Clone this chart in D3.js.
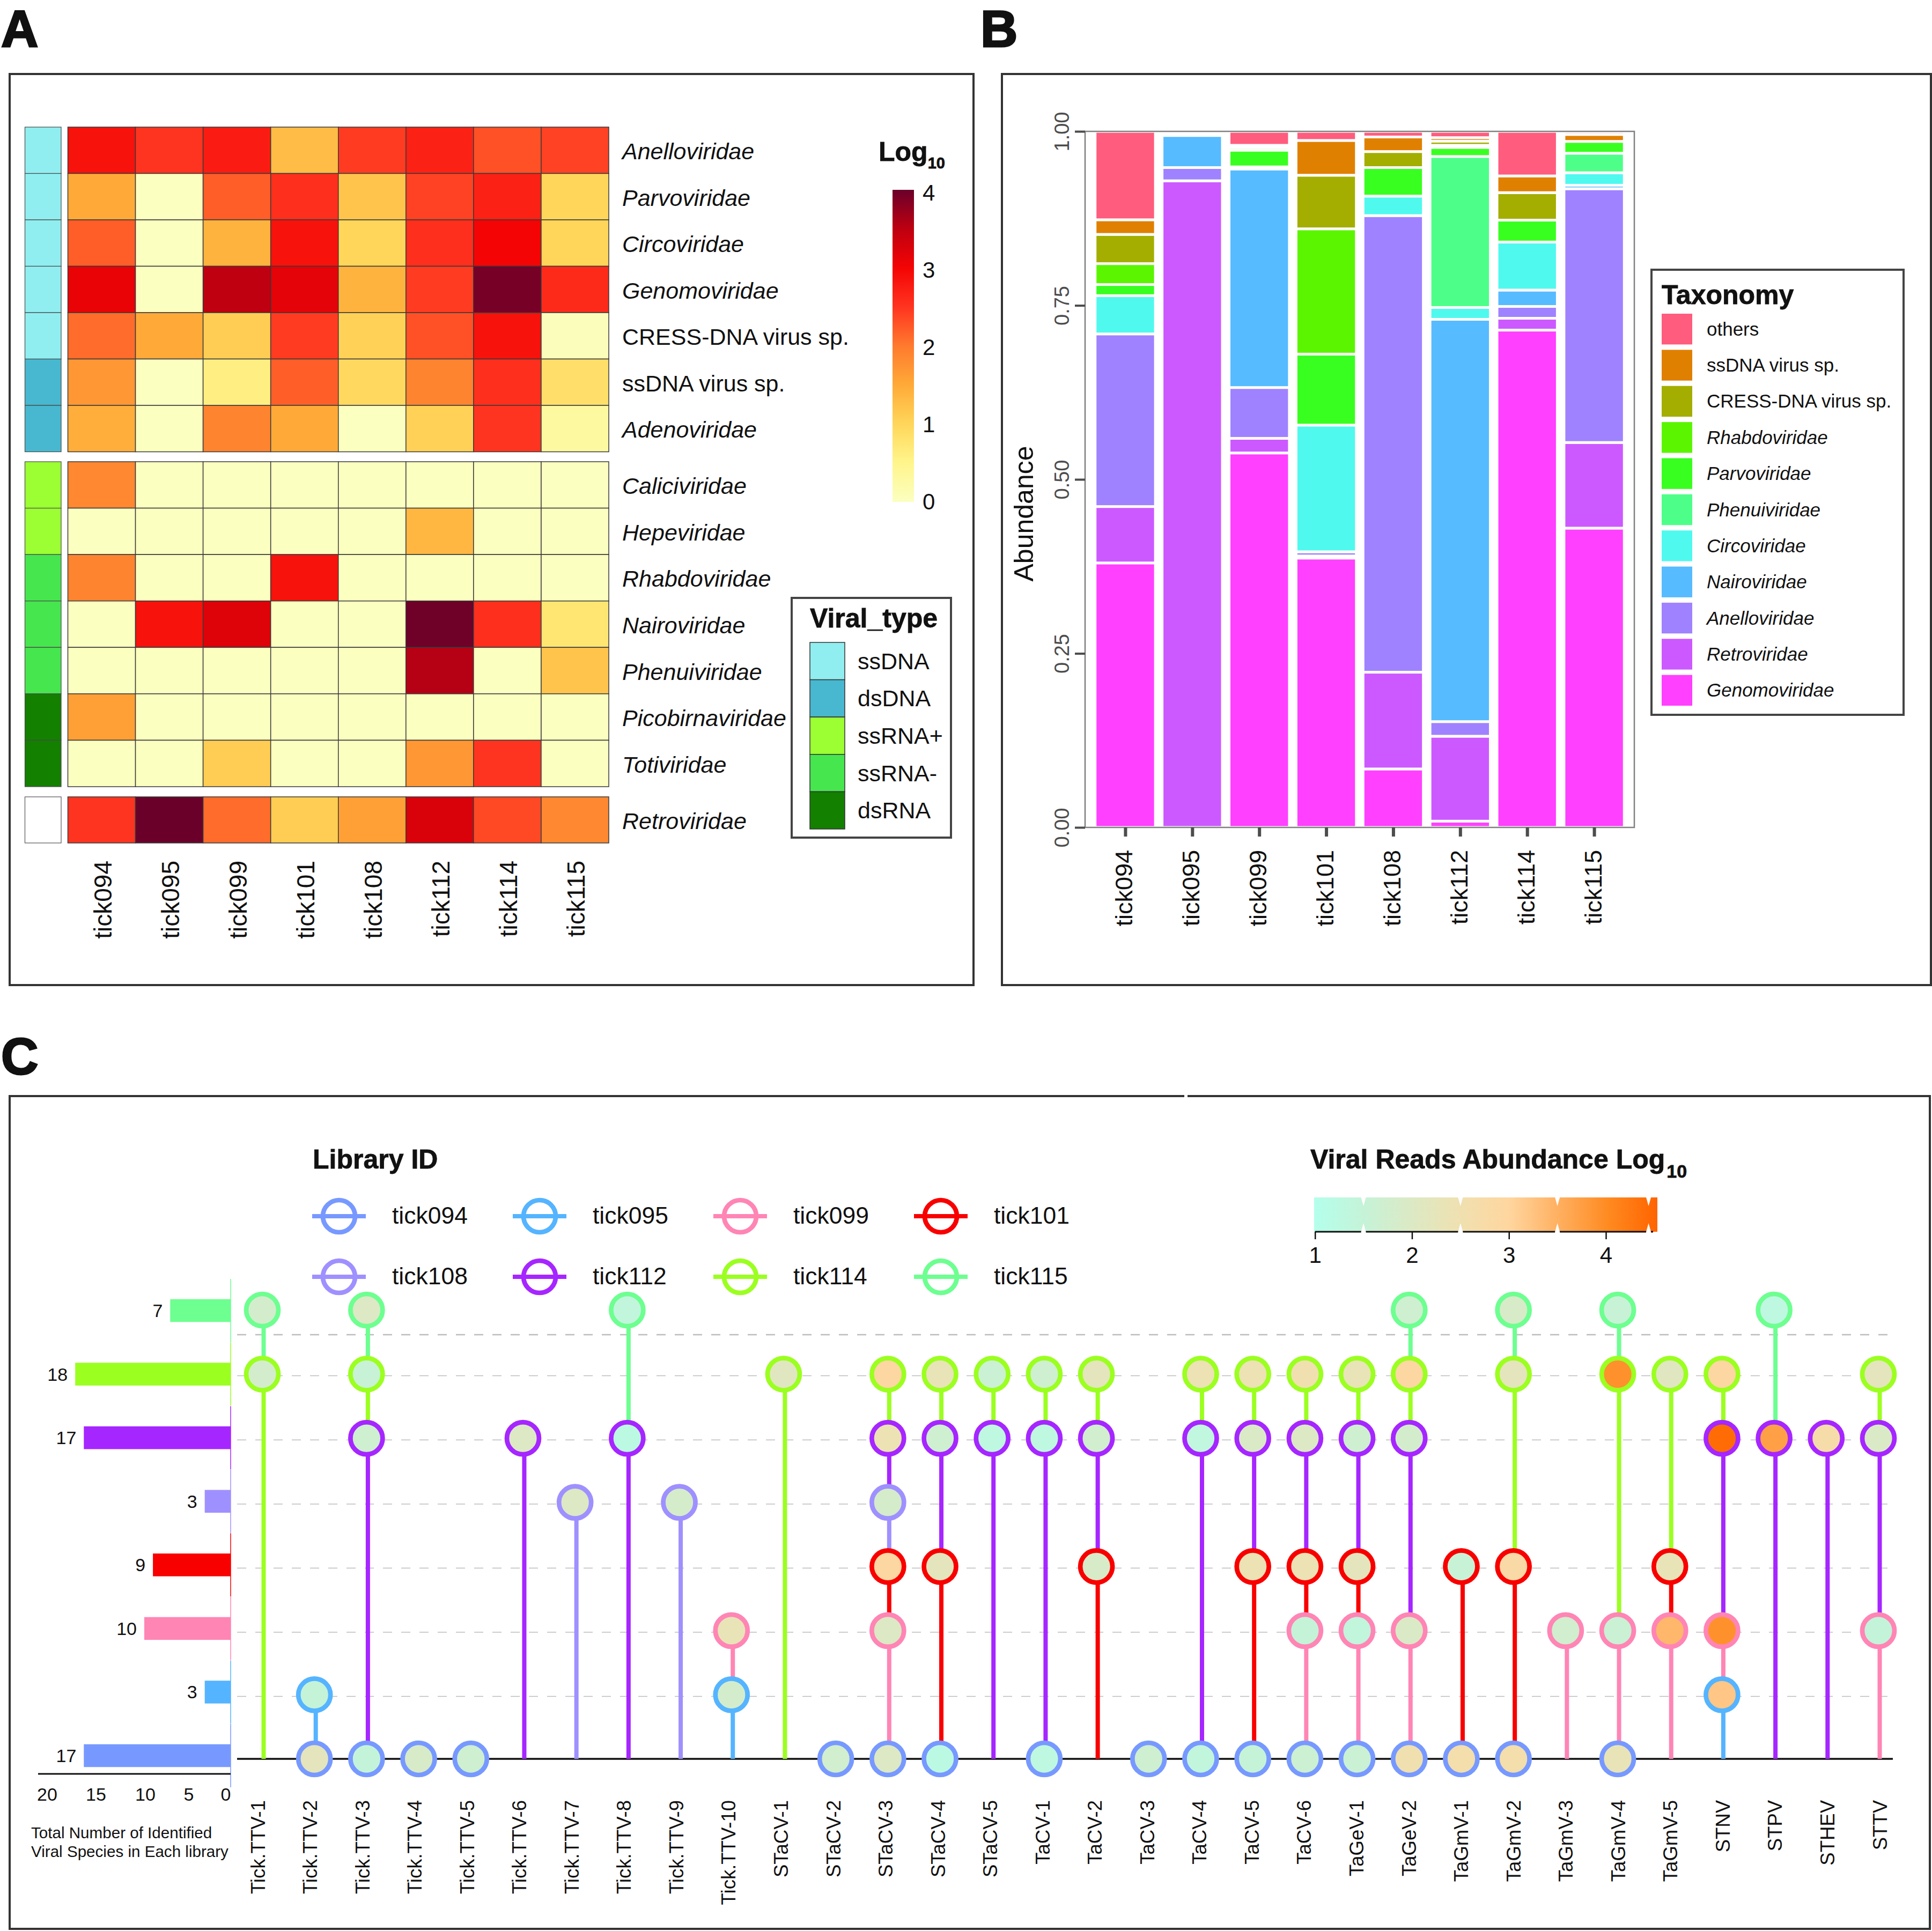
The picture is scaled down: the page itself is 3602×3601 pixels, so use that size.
<!DOCTYPE html>
<html>
<head>
<meta charset="utf-8">
<title>Tick virome</title>
<script src="https://cdn.jsdelivr.net/npm/d3@7"></script>
<style>
  body { margin: 0; background: #fff; }
  text { font-family: "Liberation Sans", Arial, sans-serif; fill: #111; }
  .it { font-style: italic; }
  .bold { font-weight: bold; stroke: #111; stroke-width: 0.8px; }
</style>
</head>
<body>
<svg id="fig" width="3602" height="3601"></svg>
<script>
// ---- shared
const samples = ['tick094', 'tick095', 'tick099', 'tick101', 'tick108', 'tick112', 'tick114', 'tick115'];

// ---- panel A data
const heatRows = ['Anelloviridae', 'Parvoviridae', 'Circoviridae', 'Genomoviridae', 'CRESS-DNA virus sp.', 'ssDNA virus sp.', 'Adenoviridae',
  'Caliciviridae', 'Hepeviridae', 'Rhabdoviridae', 'Nairoviridae', 'Phenuiviridae', 'Picobirnaviridae', 'Totiviridae', 'Retroviridae'];
const plainRows = ['CRESS-DNA virus sp.', 'ssDNA virus sp.'];
const heatValues = [
  [2.85, 2.5, 2.75, 1.3, 2.45, 2.7, 2.3, 2.4],
  [1.5, 0, 2.2, 2.55, 1.2, 2.4, 2.7, 1.0],
  [2.2, 0, 1.4, 2.85, 1.0, 2.55, 3.0, 1.0],
  [3.1, 0, 3.5, 3.15, 1.4, 2.45, 3.92, 2.6],
  [2.1, 1.5, 1.1, 2.45, 1.05, 2.3, 2.85, 0.05],
  [1.7, 0, 0.6, 2.2, 0.95, 1.9, 2.55, 0.85],
  [1.45, 0, 1.9, 1.5, 0, 1.05, 2.5, 0.3],
  [1.85, 0, 0, 0, 0, 0, 0, 0],
  [0, 0, 0, 0, 0, 1.35, 0, 0],
  [1.9, 0, 0, 2.85, 0, 0, 0, 0],
  [0, 2.85, 3.2, 0, 0, 3.97, 2.55, 0.75],
  [0, 0, 0, 0, 0, 3.55, 0, 1.2],
  [1.6, 0, 0, 0, 0, 0, 0, 0],
  [0, 0, 1.1, 0, 0, 1.7, 2.5, 0],
  [2.5, 4, 2.1, 1.1, 1.6, 3.25, 2.35, 1.85]
];
const rowType = ['ssDNA', 'ssDNA', 'ssDNA', 'ssDNA', 'ssDNA', 'dsDNA', 'dsDNA', 'ssRNA+', 'ssRNA+', 'ssRNA-', 'ssRNA-', 'ssRNA-', 'dsRNA', 'dsRNA', null];
const viralTypes = ['ssDNA', 'dsDNA', 'ssRNA+', 'ssRNA-', 'dsRNA'];
const viralTypeColors = ['#90EEF0', '#47B8CF', '#9BFF33', '#46E64E', '#138000'];
const heatTicks = [0, 1, 2, 3, 4];

// ---- panel B data, one array per taxon, in sample order
const taxa = ['Genomoviridae', 'Retroviridae', 'Anelloviridae', 'Nairoviridae', 'Circoviridae', 'Phenuiviridae', 'Parvoviridae', 'Rhabdoviridae', 'CRESS-DNA virus sp.', 'ssDNA virus sp.', 'others'];
const taxaColors = ['#FF40FF', '#CC59FF', '#9F82FF', '#56BBFF', '#50F9EE', '#4DFF88', '#39FF20', '#5BF500', '#A3AE00', '#E08000', '#FF5C7E'];
const genomoviridae = [0.380, 0, 0.538, 0.387, 0.084, 0.009, 0.7145, 0.43];
const retroviridae = [0.081, 0.929, 0.021, 0.003, 0.139, 0.122, 0.017, 0.123];
const anelloviridae = [0.248, 0.019, 0.073, 0.006, 0.656, 0.021, 0.017, 0.3646];
const nairoviridae = [0, 0.046, 0.314, 0, 0, 0.578, 0.0235, 0.005];
const circoviridae = [0.055, 0, 0.003, 0.182, 0.028, 0.017, 0.069, 0.018];
const phenuiviridae = [0, 0, 0, 0, 0, 0.217, 0, 0.028];
const parvoviridae = [0.016, 0, 0.024, 0.102, 0.041, 0.013, 0.0315, 0.017];
const rhabdoviridae = [0.03, 0, 0.004, 0.18, 0, 0.003, 0, 0];
const cressDna = [0.042, 0, 0, 0.077, 0.023, 0.006, 0.0395, 0];
const ssDna = [0.021, 0, 0.003, 0.05, 0.021, 0.005, 0.024, 0.01];
const others = [0.127, 0, 0.02, 0.013, 0.008, 0.009, 0.064, 0.004];
const taxaSeries = [genomoviridae, retroviridae, anelloviridae, nairoviridae, circoviridae, phenuiviridae, parvoviridae, rhabdoviridae, cressDna, ssDna, others];

// ---- panel C data, log10 reads per virus for each library (null = not found)
const viruses = ['Tick.TTV-1', 'Tick.TTV-2', 'Tick.TTV-3', 'Tick.TTV-4', 'Tick.TTV-5', 'Tick.TTV-6', 'Tick.TTV-7', 'Tick.TTV-8', 'Tick.TTV-9', 'Tick.TTV-10',
  'STaCV-1', 'STaCV-2', 'STaCV-3', 'STaCV-4', 'STaCV-5', 'TaCV-1', 'TaCV-2', 'TaCV-3', 'TaCV-4', 'TaCV-5', 'TaCV-6',
  'TaGeV-1', 'TaGeV-2', 'TaGmV-1', 'TaGmV-2', 'TaGmV-3', 'TaGmV-4', 'TaGmV-5', 'STNV', 'STPV', 'STHEV', 'STTV'];
const _ = null;
const reads115 = [1.8, _, 2.0, _, _, _, _, 1.4, _, _, _, _, _, _, _, _, _, _, _, _, _, _, 1.7, _, 1.9, _, 1.55, _, _, 1.3, _, _];
const reads114 = [1.8, _, 1.55, _, _, _, _, _, _, _, 2.1, _, 2.9, 2.3, 1.6, 1.7, 2.2, _, 2.4, 2.4, 2.5, 2.3, 2.9, _, 2.2, _, 3.9, 2.1, 2.9, _, _, 2.2];
const reads112 = [_, _, 1.7, _, _, 2.0, _, 1.25, _, _, _, _, 2.4, 1.7, 1.3, 1.3, 1.75, _, 1.35, 1.95, 2.0, 1.7, 1.8, _, _, _, _, _, 4.4, 3.7, 2.7, 1.95];
const reads108 = [_, _, _, _, _, _, 2.0, _, 1.85, _, _, _, 1.85, _, _, _, _, _, _, _, _, _, _, _, _, _, _, _, _, _, _, _];
const reads101 = [_, _, _, _, _, _, _, _, _, _, _, _, 2.9, 2.2, _, _, 1.9, _, _, 2.4, 2.4, 2.2, _, 1.55, 2.8, _, _, 2.3, _, _, _, _];
const reads099 = [_, _, _, _, _, _, _, _, _, 2.3, _, _, 2.0, _, _, _, _, _, _, _, 1.5, 1.4, 1.95, _, _, 1.75, 1.6, 3.4, 3.9, _, _, 1.45];
const reads095 = [_, 1.5, _, _, _, _, _, _, _, 1.8, _, _, _, _, _, _, _, _, _, _, _, _, _, _, _, _, _, _, 3.2, _, _, _];
const reads094 = [_, 2.2, 1.45, 1.9, 1.7, _, _, _, _, _, _, 1.75, 2.0, 1.25, _, 1.3, _, 1.7, 1.4, 1.5, 1.65, 1.6, 2.5, 2.6, 2.6, _, 2.3, _, _, _, _, _];
const libraries = ['tick115', 'tick114', 'tick112', 'tick108', 'tick101', 'tick099', 'tick095', 'tick094'];
const libraryColors = ['#6DFF90', '#9BFF20', '#A626FF', '#9F90FF', '#F80000', '#FF85B5', '#55B4FF', '#7799FF'];
const libraryReads = [reads115, reads114, reads112, reads108, reads101, reads099, reads095, reads094];
const libraryTotals = [7, 18, 17, 3, 9, 10, 3, 17];
const legendOrder = ['tick094', 'tick095', 'tick099', 'tick101', 'tick108', 'tick112', 'tick114', 'tick115'];
const totalTicks = [20, 15, 10, 5, 0];
const readTicks = [1, 2, 3, 4];

const svg = d3.select('#fig');
svg.append('rect').attr('width', 3602).attr('height', 3601).attr('fill', '#fff');

function frame(x, y, w, h, color, sw) {
  svg.append('rect').attr('x', x).attr('y', y).attr('width', w).attr('height', h)
    .attr('fill', 'none').attr('stroke', color).attr('stroke-width', sw);
}

function panelLetter(s, x, y) {
  svg.append('text').attr('x', x).attr('y', y).attr('class', 'bold')
    .style('font-size', '96px').style('stroke-width', 3).text(s);
}

// helper for the vertical sample / virus labels
function rotateTicks(sel, top, dx) {
  sel.selectAll('text')
    .attr('x', 0).attr('y', 0).attr('dy', 0)
    .attr('text-anchor', 'end')
    .attr('transform', `translate(${dx},${top}) rotate(-90)`);
}

panelLetter('A', 2, 87);
panelLetter('B', 1828, 87);
panelLetter('C', 2, 2003);

// ---------------- Panel A: heatmap
frame(18, 138, 1797, 1699, '#333', 4);

const heatColor = d3.scaleLinear()
  .domain([0, 0.5, 1, 1.5, 2, 2.5, 3, 3.5, 4])
  .range(['#FBFFC0', '#FFF58C', '#FFD65A', '#FFAA38', '#FF7A2E', '#FF3420', '#F40404', '#BE0010', '#6A002A']);

const heatX = d3.scaleBand().domain(samples).range([126.5, 1135]);
const heatBlocks = [
  { rows: heatRows.slice(0, 7), range: [237, 842.5] },
  { rows: heatRows.slice(7, 14), range: [861, 1467] },
  { rows: heatRows.slice(14), range: [1486, 1572] }
];

heatBlocks.forEach(block => {
  const y = d3.scaleBand().domain(block.rows).range(block.range);
  const g = svg.append('g');
  block.rows.forEach(row => {
    const r = heatRows.indexOf(row);
    g.selectAll(null).data(samples).enter().append('rect')
      .attr('x', d => heatX(d))
      .attr('y', y(row))
      .attr('width', heatX.bandwidth())
      .attr('height', y.bandwidth())
      .attr('fill', (d, i) => heatColor(heatValues[r][i]))
      .attr('stroke', '#3a3a3a')
      .attr('stroke-width', 1.5);
    // annotation strip
    const t = viralTypes.indexOf(rowType[r]);
    g.append('rect')
      .attr('x', 46.5).attr('y', y(row)).attr('width', 67.5).attr('height', y.bandwidth())
      .attr('fill', t < 0 ? '#fff' : viralTypeColors[t])
      .attr('stroke', t < 0 ? '#555' : '#4a4a4a').attr('stroke-width', 1.2);
    g.append('text')
      .attr('x', 1160).attr('y', y(row) + y.bandwidth() / 2 + 17)
      .attr('class', plainRows.includes(row) ? '' : 'it')
      .style('font-size', '43px')
      .text(row);
  });
});

const heatAxis = svg.append('g').attr('transform', 'translate(0,1572)')
  .call(d3.axisBottom(heatX).tickSize(0));
heatAxis.select('.domain').remove();
heatAxis.selectAll('text').style('font-size', '46px');
rotateTicks(heatAxis, 33, 18);

// colour bar
const defs = svg.append('defs');
const heatGrad = defs.append('linearGradient').attr('id', 'heatGrad')
  .attr('x1', 0).attr('x2', 0).attr('y1', 1).attr('y2', 0);
d3.range(0, 4.01, 0.25).forEach(v => {
  heatGrad.append('stop').attr('offset', v / 4).attr('stop-color', heatColor(v));
});
const heatLegendY = d3.scaleLinear().domain([0, 4]).range([936, 360]);
svg.append('rect').attr('x', 1664).attr('y', 354).attr('width', 40).attr('height', 582)
  .attr('fill', 'url(#heatGrad)');
svg.append('g').selectAll('text').data(heatTicks).enter().append('text')
  .attr('x', 1720).attr('y', d => heatLegendY(d) + 14)
  .style('font-size', '42px').text(d => d);

const logTitle = svg.append('text').attr('x', 1638).attr('y', 300).attr('class', 'bold').style('font-size', '50px');
logTitle.append('tspan').text('Log');
logTitle.append('tspan').attr('dy', 14).style('font-size', '29px').text('10');

// viral type legend
frame(1476, 1115, 297, 447, '#444', 4);
svg.append('text').attr('x', 1510).attr('y', 1170).attr('class', 'bold').style('font-size', '50px').text('Viral_type');
const typeY = d3.scaleBand().domain(viralTypes).range([1198, 1546]);
svg.append('g').selectAll('rect').data(viralTypes).enter().append('rect')
  .attr('x', 1510).attr('y', d => typeY(d)).attr('width', 65).attr('height', typeY.bandwidth())
  .attr('fill', (d, i) => viralTypeColors[i]).attr('stroke', '#333').attr('stroke-width', 1.5);
svg.append('g').selectAll('text').data(viralTypes).enter().append('text')
  .attr('x', 1599).attr('y', d => typeY(d) + typeY.bandwidth() / 2 + 15)
  .style('font-size', '43px').text(d => d);

// ---------------- Panel B: stacked bars
frame(1868, 138, 1732, 1699, '#333', 4);

const barX = d3.scalePoint().domain(samples).range([2023, 3047]).padding(0.6);
const barY = d3.scaleLinear().domain([0, 1]).range([1543, 245]);
const barW = barX.step() * 0.9;

const stackRows = samples.map((s, i) => {
  const row = { sample: s };
  taxa.forEach((t, k) => { row[t] = taxaSeries[k][i]; });
  return row;
});
const layers = d3.stack().keys(taxa)(stackRows);

svg.append('g').selectAll('g').data(layers).enter().append('g')
  .attr('fill', (d, i) => taxaColors[i])
  .selectAll('rect').data(d => d.filter(p => p[1] > p[0])).enter().append('rect')
  .attr('x', d => barX(d.data.sample) - barW / 2)
  .attr('y', d => barY(d[1]))
  .attr('width', barW)
  .attr('height', d => barY(d[0]) - barY(d[1]))
  .attr('stroke', '#fff')
  .attr('stroke-width', 5);

svg.append('rect').attr('x', 2023).attr('y', 245).attr('width', 1024).attr('height', 1298)
  .attr('fill', 'none').attr('stroke', '#808080').attr('stroke-width', 2.5);

const bAxisY = svg.append('g').attr('transform', 'translate(2023,0)')
  .call(d3.axisLeft(barY).tickValues([0, 0.25, 0.5, 0.75, 1]).tickFormat(d3.format('.2f')).tickSize(19));
bAxisY.select('.domain').remove();
bAxisY.selectAll('line').attr('stroke', '#4d4d4d').attr('stroke-width', 4);
bAxisY.selectAll('text')
  .attr('x', 0).attr('y', 0).attr('dy', 0)
  .attr('text-anchor', 'middle')
  .attr('transform', 'translate(-30,0) rotate(-90)')
  .style('font-size', '38px').style('fill', '#4d4d4d');

const bAxisX = svg.append('g').attr('transform', 'translate(0,1543)')
  .call(d3.axisBottom(barX).tickSize(17));
bAxisX.select('.domain').remove();
bAxisX.selectAll('line').attr('stroke', '#4d4d4d').attr('stroke-width', 6);
bAxisX.selectAll('text').style('font-size', '45px');
rotateTicks(bAxisX, 42, 13);

svg.append('text').attr('transform', 'translate(1926,958) rotate(-90)')
  .attr('text-anchor', 'middle').style('font-size', '50px').text('Abundance');

// taxonomy legend, same order as the picture (top of stack first)
frame(3079, 503, 470, 830, '#444', 4);
svg.append('text').attr('x', 3098).attr('y', 567).attr('class', 'bold').style('font-size', '50px').text('Taxonomy');
const taxaTopDown = taxa.slice().reverse();
const taxaY = d3.scaleBand().domain(taxaTopDown).range([580, 1321]);
svg.append('g').selectAll('rect').data(taxaTopDown).enter().append('rect')
  .attr('x', 3098).attr('y', d => taxaY(d) + 5)
  .attr('width', 57).attr('height', taxaY.bandwidth() - 10)
  .attr('fill', d => taxaColors[taxa.indexOf(d)]);
svg.append('g').selectAll('text').data(taxaTopDown).enter().append('text')
  .attr('x', 3182).attr('y', d => taxaY(d) + taxaY.bandwidth() / 2 + 12)
  .attr('class', d => (d.endsWith('viridae') ? 'it' : ''))
  .style('font-size', '35px').text(d => d);

// ---------------- Panel C: lollipop matrix
frame(18, 2044, 3580, 1553, '#333', 4);
svg.append('rect').attr('x', 2208).attr('y', 2040).attr('width', 6).attr('height', 8).attr('fill', '#fff');

const vx = d3.scalePoint().domain(viruses).range([489, 3502]);
const labelX = d3.scalePoint().domain(viruses).range([487, 3511]);
const ly = d3.scalePoint().domain(libraries).range([2443, 3280]);
const dotColor = d3.scaleLinear()
  .domain([1, 1.5, 2, 2.5, 3, 3.5, 4, 4.5])
  .range(['#B3FFEB', '#C5F3D8', '#DCE9C4', '#F0E0B0', '#FFD59E', '#FFAF5F', '#FF8A20', '#FF6400']);
const libColor = d3.scaleOrdinal().domain(libraries).range(libraryColors);

// dashed guides; the top one sits lower and is a bit heavier than the rest
const guides = svg.append('g').attr('stroke', '#bdbdbd').attr('stroke-dasharray', '17 17');
libraries.slice(0, -1).forEach((lib, i) => {
  const y = i === 0 ? ly(lib) + 46 : ly(lib) + 3;
  guides.append('line').attr('x1', 442).attr('x2', 3535).attr('y1', y).attr('y2', y)
    .attr('stroke-width', i === 0 ? 2.5 : 1.5);
});

svg.append('line').attr('x1', 442).attr('x2', 3529).attr('y1', 3280).attr('y2', 3280)
  .attr('stroke', '#111').attr('stroke-width', 3.5);

// stems: each library's colour runs down to the next library that has this virus
const stems = svg.append('g');
const dots = svg.append('g');
viruses.forEach((v, i) => {
  const hits = libraries.filter((lib, k) => libraryReads[k][i] !== null);
  hits.forEach((lib, h) => {
    const next = h + 1 < hits.length ? ly(hits[h + 1]) : ly('tick094');
    if (next > ly(lib)) {
      stems.append('line')
        .attr('x1', vx(v) + 2.5).attr('x2', vx(v) + 2.5)
        .attr('y1', ly(lib)).attr('y2', next)
        .attr('stroke', libColor(lib)).attr('stroke-width', 8);
    }
    dots.append('circle')
      .attr('cx', vx(v)).attr('cy', ly(lib)).attr('r', 30)
      .attr('fill', dotColor(libraryReads[libraries.indexOf(lib)][i]))
      .attr('stroke', libColor(lib)).attr('stroke-width', 8.7);
  });
});

const cAxis = svg.append('g').attr('transform', 'translate(0,3280)')
  .call(d3.axisBottom(labelX).tickSize(0));
cAxis.select('.domain').remove();
cAxis.selectAll('text').style('font-size', '36.5px');
rotateTicks(cAxis, 77, 6);

// totals on the left
const totalX = d3.scaleLinear().domain([0, 20]).range([430, 108]);
const totalTickX = d3.scaleLinear().domain(totalTicks).range([88, 179, 271, 352, 421]);
const totalY = d3.scalePoint().domain(libraries).range([2444, 3274]);
const barH = 42.5;
svg.append('g').selectAll('rect').data(libraries).enter().append('rect')
  .attr('x', (d, i) => totalX(libraryTotals[i]))
  .attr('y', d => totalY(d) - barH / 2)
  .attr('width', (d, i) => totalX(0) - totalX(libraryTotals[i]))
  .attr('height', barH)
  .attr('fill', d => libColor(d));
svg.append('g').selectAll('line').data(libraries).enter().append('line')
  .attr('x1', 430).attr('x2', 430)
  .attr('y1', d => totalY(d) - 59).attr('y2', d => totalY(d) + 59)
  .attr('stroke', d => libColor(d)).attr('stroke-width', 1.5);
svg.append('g').selectAll('text').data(libraries).enter().append('text')
  .attr('x', (d, i) => totalX(libraryTotals[i]) - 14)
  .attr('y', d => totalY(d) + 12)
  .attr('text-anchor', 'end').style('font-size', '34px')
  .text((d, i) => libraryTotals[i]);
svg.append('line').attr('x1', 71).attr('x2', 430).attr('y1', 3308).attr('y2', 3308)
  .attr('stroke', '#111').attr('stroke-width', 3);
svg.append('g').selectAll('text').data(totalTicks).enter().append('text')
  .attr('x', d => totalTickX(d)).attr('y', 3358)
  .attr('text-anchor', 'middle').style('font-size', '34px').text(d => d);
svg.append('text').attr('x', 58).attr('y', 3428).style('font-size', '29.6px').text('Total Number of Identified');
svg.append('text').attr('x', 58).attr('y', 3463).style('font-size', '29.6px').text('Viral Species in Each library');

// library legend
svg.append('text').attr('x', 583).attr('y', 2179).attr('class', 'bold').style('font-size', '50px').text('Library ID');
const legendCols = d3.scalePoint().domain(d3.range(4)).range([632, 1754]);
const legendRows = d3.scalePoint().domain(d3.range(2)).range([2268, 2381]);
const legendItems = svg.append('g').selectAll('g').data(legendOrder).enter().append('g')
  .attr('transform', (d, i) => `translate(${legendCols(i % 4)},${legendRows(Math.floor(i / 4))})`);
legendItems.append('line').attr('x1', -50).attr('x2', 50)
  .attr('stroke', d => libColor(d)).attr('stroke-width', 8);
legendItems.append('circle').attr('r', 30).attr('fill', 'none')
  .attr('stroke', d => libColor(d)).attr('stroke-width', 8.7);
legendItems.append('text').attr('x', 99).attr('y', 14)
  .style('font-size', '44.5px').text(d => d);

// reads colour bar
const rt = svg.append('text').attr('x', 2443).attr('y', 2179).attr('class', 'bold').style('font-size', '50px');
rt.append('tspan').text('Viral Reads Abundance Log');
rt.append('tspan').attr('dy', 17).attr('dx', 3).style('font-size', '34px').text('10');

const readX = d3.scaleLinear().domain([1, 4]).range([2451.7, 2994]);
const readGrad = defs.append('linearGradient').attr('id', 'readGrad');
d3.range(1, 4.51, 0.25).forEach(v => {
  readGrad.append('stop').attr('offset', (v - 1) / 3.5).attr('stop-color', dotColor(v));
});
svg.append('rect').attr('x', 2450).attr('y', 2233).attr('width', 640).attr('height', 64)
  .attr('fill', 'url(#readGrad)');
const readAxis = svg.append('g').attr('transform', 'translate(0,2297)')
  .call(d3.axisBottom(readX).tickValues(readTicks).tickFormat(d3.format('d')).tickSize(14).tickPadding(14));
readAxis.select('.domain').attr('stroke', '#111').attr('stroke-width', 3);
readAxis.selectAll('line').attr('stroke', '#111').attr('stroke-width', 2.5);
readAxis.selectAll('text').style('font-size', '42px');
readAxis.select('.domain').attr('d', 'M2451.7,0H3082');
// white notches at the bin breaks
const notches = svg.append('g').attr('fill', '#fff');
[1.5, 2.5, 3.5, 4.44].forEach(v => {
  const x = readX(v);
  notches.append('path').attr('d', `M${x - 4.5},2232V2233L${x},2249L${x + 4.5},2233V2232Z`);
  notches.append('path').attr('d', `M${x - 4.5},2299V2297L${x},2281L${x + 4.5},2297V2299Z`);
});
</script>
</body>
</html>
